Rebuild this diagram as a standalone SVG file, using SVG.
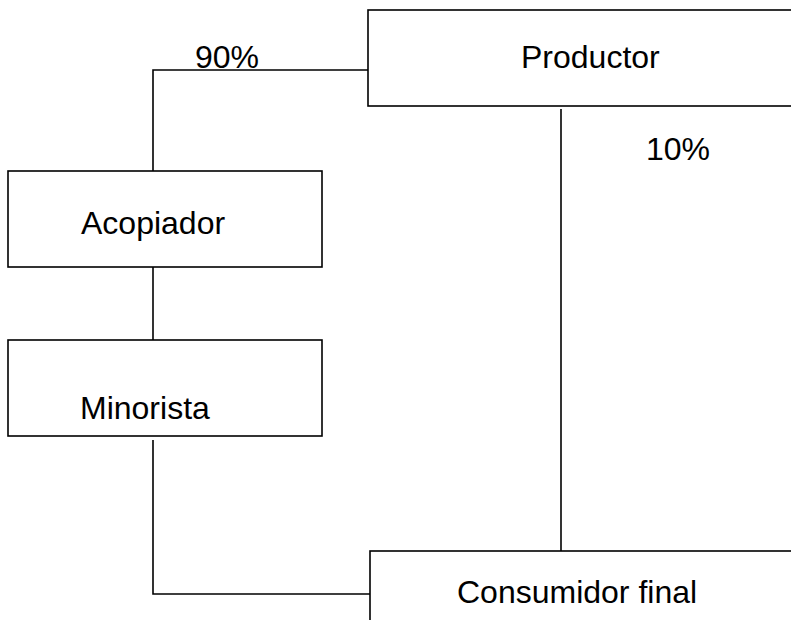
<svg xmlns="http://www.w3.org/2000/svg" width="791" height="620" viewBox="0 0 791 620">
<style>
.box{fill:#fff;stroke:#000;stroke-width:1.6}
.ln{fill:none;stroke:#000;stroke-width:1.6}
text{font-family:"Liberation Sans",Arial,sans-serif;font-size:32px;fill:#000}
</style>
<rect width="791" height="620" fill="#fff"/>
<g id="connectors">
<polyline class="ln" points="368,70 153,70 153,171"/>
<line class="ln" x1="153" y1="267" x2="153" y2="340"/>
<polyline class="ln" points="153,440 153,594 370,594"/>
<line class="ln" x1="561" y1="109" x2="561" y2="551"/>
<text x="195" y="68">90%</text>
<text x="646" y="160">10%</text>
</g>
<g id="productor">
<rect class="box" x="368" y="10" width="440" height="96"/>
<text x="521" y="68">Productor</text>
</g>
<g id="acopiador">
<rect class="box" x="8" y="171" width="314" height="96"/>
<text x="81" y="234">Acopiador</text>
</g>
<g id="minorista">
<rect class="box" x="8" y="340" width="314" height="96"/>
<text x="80" y="419">Minorista</text>
</g>
<g id="consumidor">
<rect class="box" x="370" y="551" width="440" height="100"/>
<text x="457" y="603">Consumidor final</text>
</g>
</svg>
